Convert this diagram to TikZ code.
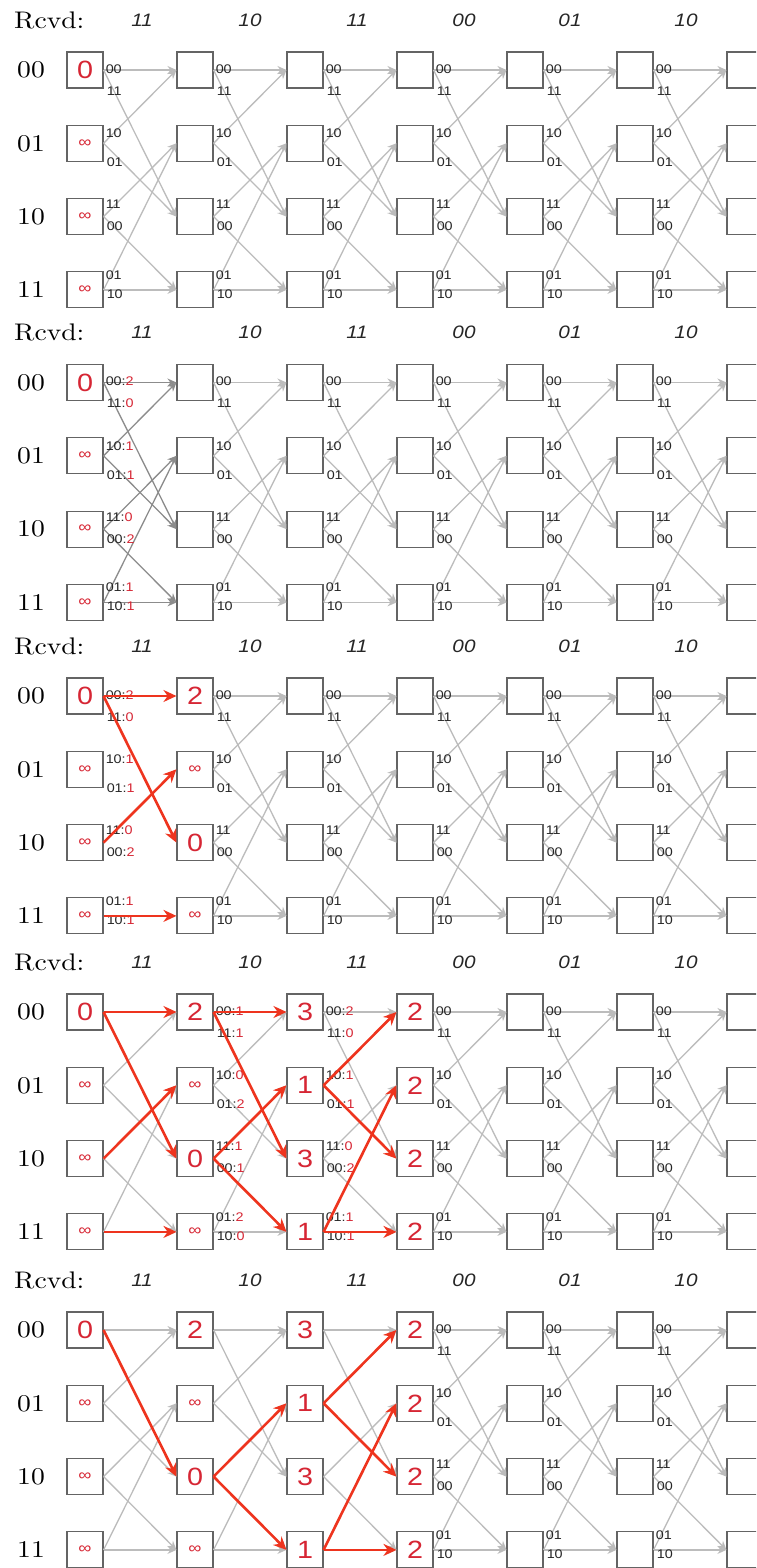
\documentclass[tikz,border=0pt]{standalone}
\usepackage{fontspec}
\usetikzlibrary{arrows.meta}
\newfontfamily\lsans{Liberation Sans}[FakeStretch=1.15]
\newfontfamily\rowfont{lmroman10-regular}[Extension=.otf, FakeStretch=1.15]

\definecolor{boxgray}{RGB}{100,100,100}
\definecolor{edgegray}{RGB}{188,188,188}
\definecolor{darkedge}{RGB}{140,140,140}
\definecolor{pathred}{RGB}{238,52,30}
\definecolor{numred}{RGB}{214,38,52}

\tikzset{
  cell/.style={draw=boxgray, line width=1.1pt, minimum size=36pt, inner sep=0pt},
  edge/.style={draw=edgegray, line width=1.3pt, -{Stealth[length=9pt,width=8pt]}},
  hot/.style={draw=darkedge, line width=1.3pt, -{Stealth[length=9pt,width=8pt]}},
  best/.style={draw=pathred, line width=2.6pt, -{Stealth[length=13pt,width=12pt]}},
  lbl/.style={font=\lsans\fontsize{12.5}{12.5}\selectfont, text=black!85, inner sep=0pt, anchor=west},
  num/.style={font=\lsans\fontsize{25}{25}\selectfont, text=numred, inner sep=0pt},
  rcvd/.style={font=\lsans\itshape\fontsize{18}{18}\selectfont, text=black!85, inner sep=0pt},
  rowlbl/.style={font=\rowfont\fontsize{24}{24}\selectfont, inner sep=0pt}
}

\newcommand\inff{{\fontsize{16}{16}\selectfont ∞}}
\newcommand\cost[1]{\textcolor{numred}{#1}}

% boxes of one panel: #1 panel, #2 y of row 00
\newcommand\grid[2]{%
  \foreach \c in {0,...,6}
    \foreach \r in {0,...,3}
      \node[cell] (#1-\c-\r) at ({85+110*\c},{#2+73.3*\r}) {};
  \node[rowlbl, anchor=west] (#1-rcvd) at (14,#2-50) {Rcvd:};
  \foreach \x/\s [count=\i] in {142/11,250/10,357/11,464/00,570/01,686/10}
    \node[rcvd] (#1-in-\i) at (\x,#2-50) {\s};
  \foreach \s [count=\r from 0] in {00,01,10,11}
    \node[rowlbl] (#1-state-\r) at (31,{#2+73.3*\r}) {\s};
}

% transitions from column #2 to column #3
\newcommand\links[4]{%
  \foreach \c in {#2,...,#3} {
    \pgfmathtruncatemacro\n{\c+1}
    \foreach \r/\u/\d in {0/0/2,1/0/2,2/1/3,3/1/3} {
      \draw[#4] (#1-\c-\r.east) -- (#1-\n-\u.west);
      \draw[#4] (#1-\c-\r.east) -- (#1-\n-\d.west);
    }
  }
}

% two output labels beside one box
\newcommand\tags[5]{%
  \ifcase#3 \def\du{-1}\def\dd{21}\or \def\du{-10}\def\dd{19}\or
    \def\du{-12}\def\dd{10}\or \def\du{-15}\def\dd{4}\fi
  \node[lbl] (#1-#2-#3-u) at ([shift={(2,\du)}]#1-#2-#3.east) {#4};
  \node[lbl] (#1-#2-#3-d) at ([shift={(3,\dd)}]#1-#2-#3.east) {#5};
}
\newcommand\plain[3]{%
  \foreach \c in {#2,...,#3}
    \foreach \r/\a/\b in {0/00/11,1/10/01,2/11/00,3/01/10}
      {\tags{#1}{\c}{\r}{\a}{\b}}
}
\newcommand\costs[3]{%
  \foreach \r/\a/\b in {#3} {\tags{#1}{#2}{\r}{\a}{\b}}
}

% path metrics written in one column
\newcommand\values[3]{%
  \foreach \v [count=\r from 0] in {#3}
    \node[num] (#1-#2-\r-v) at (#1-#2-\r) {\v};
}

% surviving branches: column/from/to
\newcommand\survivors[2]{%
  \foreach \c/\a/\b in {#2} {
    \pgfmathtruncatemacro\n{\c+1}
    \draw[best] (#1-\c-\a.east) -- (#1-\n-\b.west);
  }
}

\begin{document}
\begin{tikzpicture}[x=1pt,y=-1pt]
\useasboundingbox (0,0) rectangle (756,1568);
\clip (0,0) rectangle (756,1568);

% panel 1: start
\grid{a}{70}
\links{a}{0}{5}{edge}
\plain{a}{0}{5}
\values{a}{0}{0,\inff,\inff,\inff}

% panel 2: branch metrics of the first step
\grid{b}{382.5}
\links{b}{0}{0}{hot}
\links{b}{1}{5}{edge}
\costs{b}{0}{0/00:\cost2/11:\cost0, 1/10:\cost1/01:\cost1,
             2/11:\cost0/00:\cost2, 3/01:\cost1/10:\cost1}
\plain{b}{1}{5}
\values{b}{0}{0,\inff,\inff,\inff}

% panel 3: survivors of the first step
\grid{c}{696}
\links{c}{1}{5}{edge}
\costs{c}{0}{0/00:\cost2/11:\cost0, 1/10:\cost1/01:\cost1,
             2/11:\cost0/00:\cost2, 3/01:\cost1/10:\cost1}
\plain{c}{1}{5}
\values{c}{0}{0,\inff,\inff,\inff}
\values{c}{1}{2,\inff,0,\inff}
\survivors{c}{0/0/0, 0/0/2, 0/2/1, 0/3/3}

% panel 4: three steps
\grid{d}{1012}
\links{d}{0}{5}{edge}
\costs{d}{1}{0/00:\cost1/11:\cost1, 1/10:\cost0/01:\cost2,
             2/11:\cost1/00:\cost1, 3/01:\cost2/10:\cost0}
\costs{d}{2}{0/00:\cost2/11:\cost0, 1/10:\cost1/01:\cost1,
             2/11:\cost0/00:\cost2, 3/01:\cost1/10:\cost1}
\plain{d}{3}{5}
\values{d}{0}{0,\inff,\inff,\inff}
\values{d}{1}{2,\inff,0,\inff}
\values{d}{2}{3,1,3,1}
\values{d}{3}{2,2,2,2}
\survivors{d}{0/0/0, 0/0/2, 0/2/1, 0/3/3, 1/0/0, 1/0/2, 1/2/1, 1/2/3,
              2/1/0, 2/1/2, 2/3/1, 2/3/3}

% panel 5: remaining survivor paths
\grid{e}{1330}
\links{e}{0}{5}{edge}
\plain{e}{3}{5}
\values{e}{0}{0,\inff,\inff,\inff}
\values{e}{1}{2,\inff,0,\inff}
\values{e}{2}{3,1,3,1}
\values{e}{3}{2,2,2,2}
\survivors{e}{0/0/2, 1/2/1, 1/2/3, 2/1/0, 2/1/2, 2/3/1, 2/3/3}
\end{tikzpicture}
\end{document}
